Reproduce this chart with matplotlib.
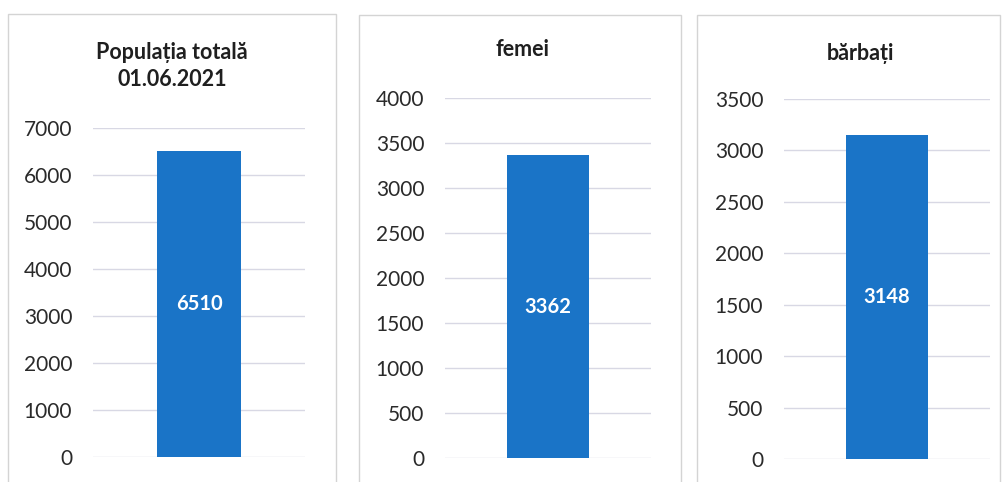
import matplotlib.pyplot as plt
from matplotlib.patches import Rectangle

plt.rcParams['font.family'] = ['Lato', 'DejaVu Sans']

titles = ["Populația totală\n01.06.2021", "femei", "bărbați"]
values = [6510, 3362, 3148]
ymax = [7000, 4000, 3500]
ystep = [1000, 500, 500]

bar_color = "#1a74c7"
grid_color = "#d8d8e4"

W, H = 1003, 482
fig = plt.figure(figsize=(W / 100, H / 100), dpi=100)

# pixel layout of each panel: box (x0, x1, top), axes (left, right, y_bottom, y_top), title (x, y)
boxes = [(8, 336, 14), (359, 681, 15), (697, 1000, 15)]
axes_px = [(93, 305, 457, 128), (445, 651, 458, 98), (784, 990, 459, 99)]
title_px = [(172, 66), (522, 50), (860, 53)]

for i in range(3):
    bx0, bx1, btop = boxes[i]
    fig.patches.append(Rectangle((bx0 / W, -0.05), (bx1 - bx0) / W, (H - btop) / H + 0.05,
                                 transform=fig.transFigure, fill=False,
                                 edgecolor="#d4d4d4", linewidth=1.0))
    l, r, yb, yt = axes_px[i]
    ax = fig.add_axes([l / W, (H - yb) / H, (r - l) / W, (yb - yt) / H])
    ticks = list(range(0, ymax[i] + 1, ystep[i]))
    for t in ticks:
        ax.axhline(t, color=grid_color, linewidth=1.0, zorder=0)
    ax.bar([0], [values[i]], width=0.40, color=bar_color, zorder=2)
    ax.text(0, values[i] / 2, str(values[i]), color="white", fontsize=14.5,
            fontweight="bold", ha="center", va="center", zorder=3)
    ax.set_xlim(-0.5, 0.5)
    ax.set_ylim(0, ymax[i])
    ax.set_yticks(ticks)
    ax.set_xticks([])
    ax.tick_params(axis="y", length=0, pad=15, labelsize=15, labelcolor="#2a2a2a")
    for s in ax.spines.values():
        s.set_visible(False)
    ax.patch.set_alpha(0)
    tx, ty = title_px[i]
    fig.text(tx / W, (H - ty) / H, titles[i], ha="center", va="center",
             fontsize=15.5, fontweight="bold", color="#1f1f1f", linespacing=1.4)

fig.savefig("out.png", dpi=100)
